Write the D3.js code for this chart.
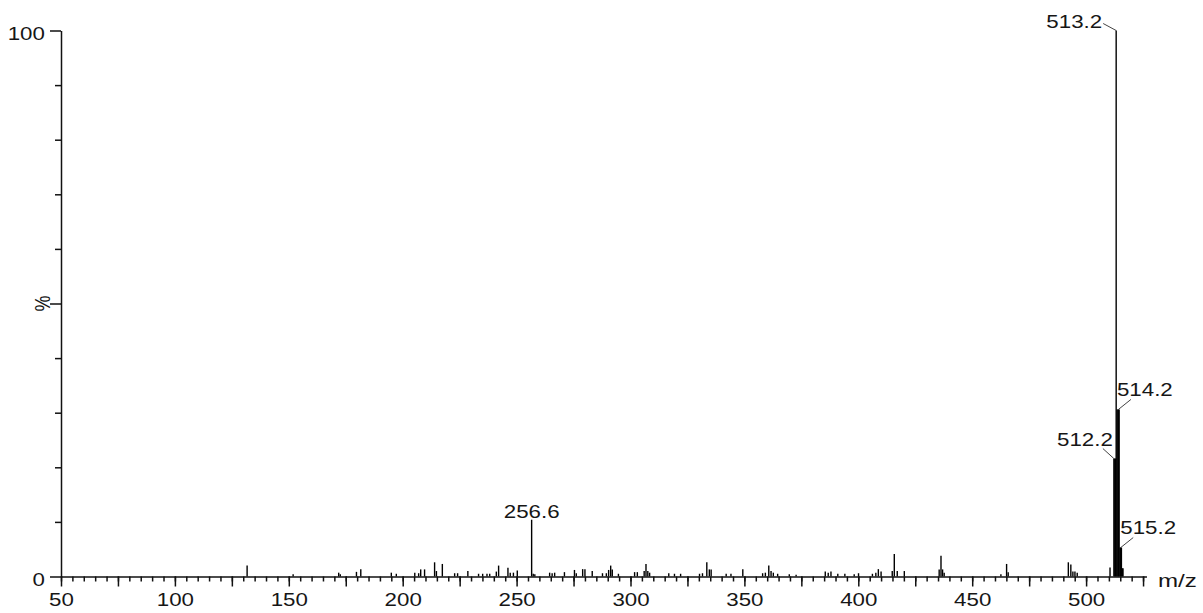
<!DOCTYPE html>
<html>
<head>
<meta charset="utf-8">
<script src="https://cdn.jsdelivr.net/npm/d3@7"></script>
<style>
  html, body { margin: 0; padding: 0; background: #fff; }
  svg { display: block; }
  text { font-family: "Liberation Sans", Arial, sans-serif; fill: #161616; }
</style>
</head>
<body>
<svg id="chart" width="1203" height="613"></svg>
<script>
// Mass spectrum: m/z positions and relative intensities (%)
const mzValues = [
  131.7, 151.9, 171.9, 172.6, 179.7, 181.6, 195.0, 197.2, 205.3, 207.0,
  207.9, 209.6, 214.0, 214.8, 217.4, 222.8, 224.1, 228.6, 233.3, 235.1,
  237.0, 238.2, 241.1, 242.1, 246.2, 247.2, 248.6, 250.3, 256.6, 257.3,
  258.0, 264.5, 265.6, 266.7, 271.0, 275.4, 276.2, 279.0, 280.0, 283.2,
  287.7, 289.4, 290.4, 291.3, 292.0, 294.7, 301.8, 303.0, 306.0, 306.8,
  307.6, 308.4, 316.8, 319.3, 322.0, 330.3, 331.6, 333.5, 334.6, 335.4,
  342.0, 344.1, 349.3, 358.0, 359.2, 360.7, 361.7, 362.7, 364.6, 369.7,
  372.7, 385.5, 386.8, 388.0, 391.0, 394.1, 398.2, 400.1, 406.2, 407.7,
  408.8, 410.0, 414.9, 415.8, 417.1, 420.2, 435.5, 436.3, 437.0, 437.7,
  462.6, 465.1, 465.8, 492.2, 493.3, 494.2, 495.1, 496.1, 510.5, 512.2,
  512.6, 512.9, 513.2, 513.6, 514.0, 514.2, 514.5, 514.9, 515.2, 515.5,
  515.9, 516.2
];
const intensities = [
  2.0, 0.4, 0.7, 0.4, 0.85, 1.35, 0.7, 0.5, 0.7, 0.6,
  1.3, 1.3, 2.6, 1.0, 2.3, 0.6, 0.6, 1.0, 0.5, 0.5,
  0.5, 0.5, 0.9, 2.0, 1.6, 0.7, 0.7, 1.1, 10.4, 0.5,
  0.4, 0.7, 0.6, 0.7, 0.8, 1.2, 0.6, 1.35, 1.35, 1.0,
  0.6, 0.6, 1.2, 2.0, 1.3, 0.5, 0.8, 0.8, 1.0, 2.3,
  1.0, 0.7, 0.6, 0.5, 0.5, 0.5, 0.6, 2.6, 1.3, 1.3,
  0.5, 0.5, 1.35, 0.6, 0.7, 2.0, 1.0, 0.7, 0.5, 0.4,
  0.3, 0.9, 0.7, 0.9, 0.5, 0.5, 0.4, 0.6, 0.5, 0.7,
  1.35, 0.9, 1.0, 4.1, 1.0, 1.0, 1.3, 3.8, 1.3, 0.7,
  0.4, 2.3, 0.8, 2.6, 2.2, 0.9, 0.9, 0.7, 1.65, 21.6,
  21.6, 21.6, 100, 30.6, 30.6, 30.6, 30.6, 5.3, 5.3, 5.3,
  1.5, 1.5
];
// Peaks annotated with their m/z
const labelledPeaks = [256.6, 512.2, 513.2, 514.2, 515.2];

// Axis ticks
const xMinorTicks = d3.range(50, 526, 5);
const xMajorTicks = d3.range(50, 526, 25);
const xLabelTicks = [50, 100, 150, 200, 250, 300, 350, 400, 450, 500];
const yTicks = d3.range(0, 101, 10);
const yLabelTicks = [0, 100];

const svg = d3.select("#chart");
const SX = 1.24; // horizontal stretch applied to all text

const x = d3.scaleLinear().domain([50, 526.5]).range([61, 61 + 476.5 * 2.278]);
const y = d3.scaleLinear().domain([0, 100]).range([576.5, 30.5]);

const peaks = mzValues.map((m, i) => ({ mz: m, v: intensities[i] }));

// Peak sticks
svg.append("g")
  .selectAll("line")
  .data(peaks)
  .join("line")
  .attr("x1", d => x(d.mz)).attr("x2", d => x(d.mz))
  .attr("y1", y(0)).attr("y2", d => y(d.v))
  .attr("stroke", "#000")
  .attr("stroke-width", 1.4);

// X axis: minor ticks every 5, longer ticks every 25
const axisStyle = g => {
  g.selectAll("path, line").attr("stroke", "#111").attr("stroke-width", 1.5);
};
svg.append("g")
  .attr("transform", `translate(0,${y(0)})`)
  .call(d3.axisBottom(x).tickValues(xMinorTicks).tickSize(5).tickSizeOuter(0).tickFormat(""))
  .call(axisStyle);
const xMajor = svg.append("g")
  .attr("transform", `translate(0,${y(0)})`)
  .call(d3.axisBottom(x).tickValues(xMajorTicks).tickSize(10).tickSizeOuter(0)
    .tickFormat(d => xLabelTicks.includes(d) ? d3.format("d")(d) : ""))
  .call(axisStyle);
xMajor.select(".domain").remove();
xMajor.selectAll("text")
  .attr("y", 17).attr("dy", "0.71em")
  .attr("font-size", 18)
  .attr("font-family", null)
  .attr("fill", "#161616")
  .attr("transform", `scale(${SX},1)`);

// Y axis
const yAxis = svg.append("g")
  .attr("transform", `translate(${x(50)},0)`)
  .call(d3.axisLeft(y).tickValues(yTicks).tickSize(5).tickSizeOuter(0)
    .tickFormat(""))
  .call(axisStyle);
yAxis.selectAll(".tick line")
  .attr("x2", d => (d === 0 || d === 50 || d === 100) ? -11 : -6);
yAxis.selectAll(".tick").filter(d => yLabelTicks.includes(d))
  .append("text")
  .attr("x", -13).attr("dy", "0.48em")
  .attr("text-anchor", "end")
  .attr("font-size", 18)
  .attr("transform", `scale(${SX},1)`)
  .text(d => d3.format("d")(d));

// Axis titles
svg.append("text")
  .attr("transform", `translate(${x(50) - 19},${y(50)}) rotate(-90) scale(1,${SX})`)
  .attr("text-anchor", "middle")
  .attr("dy", "0.35em")
  .attr("font-size", 18)
  .text("%");
svg.append("text")
  .attr("transform", `translate(1158,587) scale(${SX + 0.1},1)`)
  .attr("font-size", 18)
  .text("m/z");

// Peak annotations with short leader lines
const leaders = {
  "513.2": { dx: -13, dy: -7, anchor: "end", tx: -1, ty: 4 },
  "514.2": { dx: 12.5, dy: -10, anchor: "start", tx: -14, ty: -3 },
  "512.2": { dx: -11, dy: -10, anchor: "end", tx: 10, ty: -3 },
  "515.2": { dx: 12.5, dy: -10, anchor: "start", tx: -13, ty: -4 },
  "256.6": { dx: 0, dy: 0, anchor: "middle", tx: 0, ty: -2 }
};
const annot = svg.append("g");
labelledPeaks.forEach(m => {
  const p = peaks.find(d => d.mz === m);
  const key = d3.format(".1f")(m);
  const o = leaders[key];
  const px = x(p.mz), py = y(p.v);
  if (o.dx !== 0 || o.dy !== 0) {
    annot.append("line")
      .attr("x1", px).attr("y1", py)
      .attr("x2", px + o.dx).attr("y2", py + o.dy)
      .attr("stroke", "#444").attr("stroke-width", 1);
  }
  annot.append("text")
    .attr("transform", `translate(${px + o.dx + o.tx},${py + o.dy + o.ty}) scale(${SX},1)`)
    .attr("text-anchor", o.anchor)
    .attr("font-size", 18)
    .text(key);
});
</script>
</body>
</html>
